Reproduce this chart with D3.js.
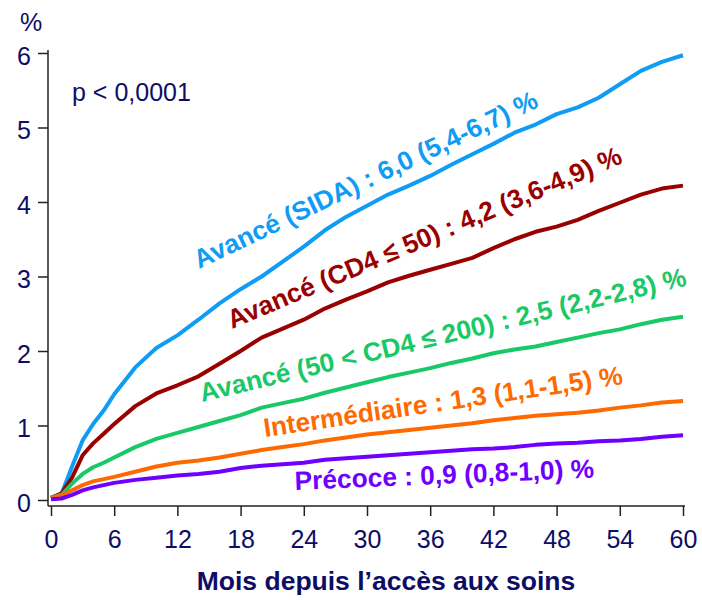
<!DOCTYPE html>
<html lang="fr">
<head>
    <meta charset="UTF-8">
    <title>Incidence cumulée</title>
    <script src="https://d3js.org/d3.v7.min.js"></script>
    <style>
        body { margin: 0; background: #fff; }
        .tick-label {
            font-size: 25px;
            font-family: "Liberation Sans", Arial, sans-serif;
            fill: #0d0d66;
        }
        .axis-title {
            font-size: 26.5px;
            font-weight: bold;
            font-family: "Liberation Sans", Arial, sans-serif;
            fill: #0d0d66;
            text-anchor: middle;
        }
        .curve-label {
            font-size: 26.3px;
            font-weight: bold;
            font-family: "Liberation Sans", Arial, sans-serif;
        }
    </style>
</head>
<body>
<script>
    let width = 702;
    let height = 600;

    // months
    let months = [0, 1, 2, 3, 4, 5, 6, 8, 10, 12, 14, 16, 18, 20, 22, 24, 26, 28, 30,
        32, 34, 36, 38, 40, 42, 44, 46, 48, 50, 52, 54, 56, 58, 60];

    // cumulative incidence (%) per group
    let sida = [0.03, 0.08, 0.45, 0.8, 1.02, 1.2, 1.42, 1.78, 2.04, 2.21, 2.42, 2.64, 2.83, 3.0, 3.2, 3.4, 3.62,
        3.8, 3.95, 4.1, 4.22, 4.35, 4.5, 4.64, 4.78, 4.93, 5.04, 5.18, 5.27, 5.4, 5.58, 5.76, 5.88, 5.97];
    let cd4le50 = [0.03, 0.09, 0.3, 0.6, 0.76, 0.89, 1.02, 1.26, 1.43, 1.54, 1.66, 1.83, 2.0, 2.18, 2.3, 2.42, 2.57,
        2.69, 2.8, 2.92, 3.01, 3.09, 3.17, 3.25, 3.38, 3.5, 3.6, 3.67, 3.76, 3.88, 3.99, 4.1, 4.18, 4.22];
    let cd4le200 = [0.03, 0.07, 0.22, 0.35, 0.44, 0.5, 0.57, 0.71, 0.82, 0.9, 0.98, 1.06, 1.14, 1.24, 1.3, 1.36, 1.44,
        1.51, 1.58, 1.65, 1.71, 1.77, 1.84, 1.9, 1.97, 2.02, 2.06, 2.12, 2.18, 2.24, 2.29, 2.36, 2.42, 2.46];
    let intermediaire = [0.03, 0.06, 0.13, 0.2, 0.25, 0.28, 0.31, 0.38, 0.45, 0.5, 0.53, 0.57, 0.62, 0.67, 0.71, 0.75,
        0.8, 0.84, 0.88, 0.91, 0.94, 0.97, 1.0, 1.03, 1.07, 1.1, 1.13, 1.15, 1.17, 1.2, 1.24, 1.27, 1.31, 1.33];
    let precoce = [0.01, 0.02, 0.07, 0.13, 0.17, 0.2, 0.23, 0.27, 0.3, 0.33, 0.35, 0.38, 0.43, 0.46, 0.48, 0.5,
        0.54, 0.56, 0.58, 0.6, 0.62, 0.64, 0.66, 0.68, 0.69, 0.71, 0.74, 0.76, 0.77, 0.79, 0.8, 0.82, 0.85, 0.87];

    let labels = [
        "Avancé (SIDA) : 6,0 (5,4-6,7) %",
        "Avancé (CD4 ≤ 50) : 4,2 (3,6-4,9) %",
        "Avancé (50 < CD4 ≤ 200) : 2,5 (2,2-2,8) %",
        "Intermédiaire : 1,3 (1,1-1,5) %",
        "Précoce : 0,9 (0,8-1,0) %"
    ];
    let colors = ["#0f9cf5", "#990000", "#19c866", "#ff6a00", "#6f00ff"];

    let xTicks = [0, 6, 12, 18, 24, 30, 36, 42, 48, 54, 60];
    let yTicks = [0, 1, 2, 3, 4, 5, 6];

    let svg = d3.select("body").append("svg")
        .attr("width", width)
        .attr("height", height);

    svg.append("rect")
        .attr("fill", "#fff")
        .attr("width", "100%")
        .attr("height", "100%");

    let x = d3.scaleLinear().domain([0, 60]).range([51, 683]);
    let y = d3.scaleLinear().domain([0, 6]).range([500, 53]);

    let axisX = 48;
    let axisY = 506;

    // axes
    let gx = svg.append("g")
        .attr("transform", "translate(0," + axisY + ")")
        .call(d3.axisBottom(x).tickValues(xTicks).tickFormat(d3.format("d")).tickSize(10).tickPadding(14));
    let gy = svg.append("g")
        .attr("transform", "translate(" + axisX + ",0)")
        .call(d3.axisLeft(y).tickValues(yTicks).tickFormat(d3.format("d")).tickSize(10).tickPadding(7));

    [gx, gy].forEach(g => {
        g.select(".domain").remove();
        g.selectAll(".tick line").attr("stroke", "#222").attr("stroke-width", 1.5);
        g.selectAll(".tick text").attr("class", "tick-label").attr("font-size", null).attr("font-family", null);
    });
    gy.selectAll(".tick text").attr("dy", "0.45em");

    svg.append("line")
        .attr("x1", axisX).attr("x2", axisX)
        .attr("y1", y(6) - 3).attr("y2", axisY)
        .attr("stroke", "#222").attr("stroke-width", 1.5);
    svg.append("line")
        .attr("x1", axisX).attr("x2", x(60) + 2)
        .attr("y1", axisY).attr("y2", axisY)
        .attr("stroke", "#222").attr("stroke-width", 1.5);

    svg.append("text")
        .attr("class", "tick-label")
        .attr("x", 20)
        .attr("y", 31)
        .attr("font-size", "27px")
        .text("%");

    svg.append("text")
        .attr("class", "tick-label")
        .attr("x", 72)
        .attr("y", 101)
        .attr("font-size", "24.5px")
        .text("p < 0,0001");

    svg.append("text")
        .attr("class", "axis-title")
        .attr("x", 386)
        .attr("y", 590)
        .text("Mois depuis l’accès aux soins");

    // curves
    let line = d3.line()
        .x((d, i) => x(months[i]))
        .y(d => y(d));

    let series = [sida, cd4le50, cd4le200, intermediaire, precoce];
    for (let i = 0; i < series.length; i++) {
        svg.append("path")
            .datum(series[i])
            .attr("d", line)
            .attr("fill", "none")
            .attr("stroke", colors[i])
            .attr("stroke-width", 4)
            .attr("stroke-linejoin", "round");
    }

    // curve labels: [start x, baseline y, angle]
    let labelPos = [
        [199, 269, -25.5],
        [232, 329, -23],
        [202, 402, -13.5],
        [265, 437, -8.4],
        [295, 490, -2.4]
    ];
    labels.forEach((t, i) => {
        let p = labelPos[i];
        svg.append("text")
            .attr("class", "curve-label")
            .attr("fill", colors[i])
            .attr("transform", "translate(" + p[0] + "," + p[1] + ") rotate(" + p[2] + ")")
            .text(t);
    });
</script>
</body>
</html>
